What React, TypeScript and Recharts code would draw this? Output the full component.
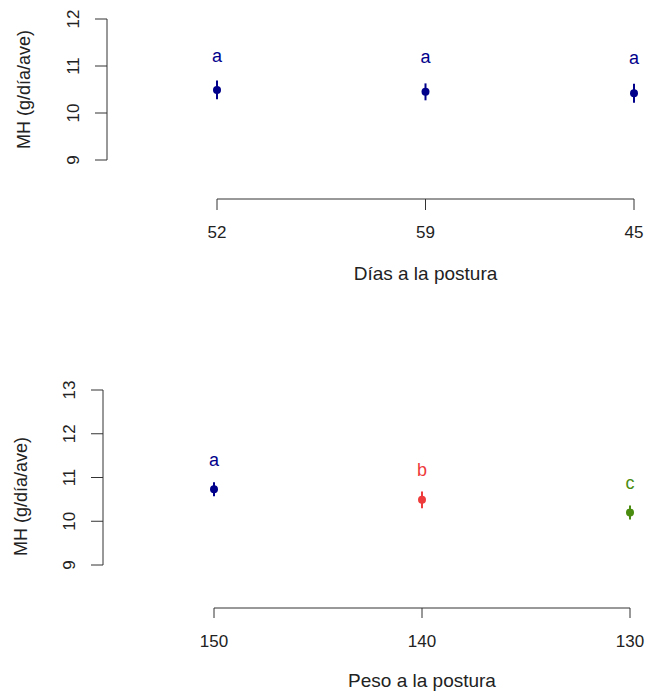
import React from 'react';
import { ScatterChart, Scatter, XAxis, YAxis, ErrorBar } from 'recharts';

// panel 1: días a la postura
const diasLabels = ['52', '59', '45'];
const diasMH = [10.49, 10.45, 10.42];
const diasErr = [0.2, 0.18, 0.2];
const diasLetters = ['a', 'a', 'a'];
const diasLetterY = [11.22, 11.2, 11.18];
const diasColors = ['#00008B', '#00008B', '#00008B'];
const diasTicks = [9, 10, 11, 12];

// panel 2: peso a la postura
const pesoLabels = ['150', '140', '130'];
const pesoMH = [10.73, 10.49, 10.2];
const pesoErr = [0.16, 0.19, 0.16];
const pesoLetters = ['a', 'b', 'c'];
const pesoLetterY = [11.4, 11.17, 10.88];
const pesoColors = ['#00008B', '#EE3B3B', '#4A8C10'];
const pesoTicks = [9, 10, 11, 12, 13];

const FONT = '"Liberation Sans", Arial, Helvetica, sans-serif';
const AXIS = '#333';

type PanelProps = {
  height: number;
  top: number;
  plotH: number;
  yW: number;
  padL: number;
  padR: number;
  axisGap: number;
  tickLen: number;
  labelGap: number;
  titleGap: number;
  yTitleX: number;
  yTitleShift: number;
  labels: string[];
  values: number[];
  errs: number[];
  letters: string[];
  letterY: number[];
  colors: string[];
  yTicks: number[];
  xTitle: string;
  yTitle: string;
};

const W = 649;
const RIGHT = 4;

const Panel = (p: PanelProps) => {
  const n = p.labels.length;
  const step = (W - p.yW - RIGHT - p.padL - p.padR) / (n - 1);
  const idx = p.labels.map((_, i) => i);
  const letterRows = p.letters.map((l, i) => ({ idx: i, y: p.letterY[i], letter: l, color: p.colors[i] }));

  const XTick = (t: any) => {
    const { x, y, payload, index } = t;
    const ay = y + p.axisGap;
    return (
      <g>
        {index === 0 && <line x1={x} x2={x + (n - 1) * step} y1={ay} y2={ay} stroke={AXIS} />}
        <line x1={x} x2={x} y1={ay} y2={ay + p.tickLen} stroke={AXIS} />
        <text x={x} y={y + p.labelGap} textAnchor="middle" fontSize={17} fill="#222" fontFamily={FONT}>
          {p.labels[payload.value]}
        </text>
      </g>
    );
  };

  const YTick = (t: any) => {
    const { x, y, payload } = t;
    return (
      <text x={x} y={y} transform={`rotate(-90 ${x} ${y})`} textAnchor="middle" dominantBaseline="central"
        fontSize={17} fill="#222" fontFamily={FONT}>
        {payload.value}
      </text>
    );
  };

  return (
    <ScatterChart width={W} height={p.height} margin={{ top: p.top, right: RIGHT, left: 0, bottom: 0 }}>
      <XAxis
        type="number"
        dataKey="idx"
        domain={[0, n - 1]}
        ticks={idx}
        interval={0}
        padding={{ left: p.padL, right: p.padR }}
        axisLine={false}
        tickLine={false}
        tickSize={0}
        tickMargin={0}
        height={p.height - p.top - p.plotH}
        tick={<XTick />}
        label={{
          content: (lp: any) => {
            const vb = lp.viewBox;
            const cx = vb.x + p.padL + (vb.width - p.padL - p.padR) / 2;
            return (
              <text x={cx} y={vb.y + p.titleGap} textAnchor="middle" fontSize={19} fill="#222" fontFamily={FONT}>
                {p.xTitle}
              </text>
            );
          },
        }}
      />
      <YAxis
        type="number"
        dataKey="y"
        domain={[p.yTicks[0], p.yTicks[p.yTicks.length - 1]]}
        ticks={p.yTicks}
        interval={0}
        width={p.yW}
        tickSize={12}
        tickMargin={22}
        stroke={AXIS}
        tick={<YTick />}
        label={{
          content: (lp: any) => {
            const vb = lp.viewBox;
            const cy = vb.y + vb.height / 2 + p.yTitleShift;
            return (
              <text x={p.yTitleX} y={cy} transform={`rotate(-90 ${p.yTitleX} ${cy})`} textAnchor="middle"
                dominantBaseline="central" fontSize={18} fill="#222" fontFamily={FONT}>
                {p.yTitle}
              </text>
            );
          },
        }}
      />
      {p.values.map((v, i) => (
        <Scatter
          key={'pt' + i}
          data={[{ idx: i, y: v, err: p.errs[i] }]}
          fill={p.colors[i]}
          isAnimationActive={false}
          shape={(s: any) => <circle cx={s.cx} cy={s.cy} r={4} fill={p.colors[i]} />}
        >
          <ErrorBar dataKey="err" direction="y" width={0} stroke={p.colors[i]} strokeWidth={2} isAnimationActive={false} />
        </Scatter>
      ))}
      <Scatter
        data={letterRows}
        isAnimationActive={false}
        shape={(s: any) => (
          <text x={s.cx} y={s.cy} textAnchor="middle" dominantBaseline="central" fontSize={18}
            fill={s.payload.color} fontFamily={FONT}>
            {s.payload.letter}
          </text>
        )}
      />
    </ScatterChart>
  );
};

export default function App() {
  return (
    <div style={{ position: 'absolute', left: 0, top: 0, width: 649, height: 695, background: '#fff' }}>
      <Panel
        height={300}
        top={19}
        plotH={141}
        yW={107}
        padL={110}
        padR={11}
        axisGap={39}
        tickLen={11}
        labelGap={78}
        titleGap={120}
        yTitleX={24}
        yTitleShift={0}
        labels={diasLabels}
        values={diasMH}
        errs={diasErr}
        letters={diasLetters}
        letterY={diasLetterY}
        colors={diasColors}
        yTicks={diasTicks}
        xTitle="Días a la postura"
        yTitle="MH (g/día/ave)"
      />
      <div style={{ position: 'absolute', left: 0, top: 300 }}>
        <Panel
          height={395}
          top={90}
          plotH={175}
          yW={103}
          padL={111}
          padR={15}
          axisGap={43}
          tickLen={10}
          labelGap={82}
          titleGap={122}
          yTitleX={21}
          yTitleShift={19}
          labels={pesoLabels}
          values={pesoMH}
          errs={pesoErr}
          letters={pesoLetters}
          letterY={pesoLetterY}
          colors={pesoColors}
          yTicks={pesoTicks}
          xTitle="Peso a la postura"
          yTitle="MH (g/día/ave)"
        />
      </div>
    </div>
  );
}
